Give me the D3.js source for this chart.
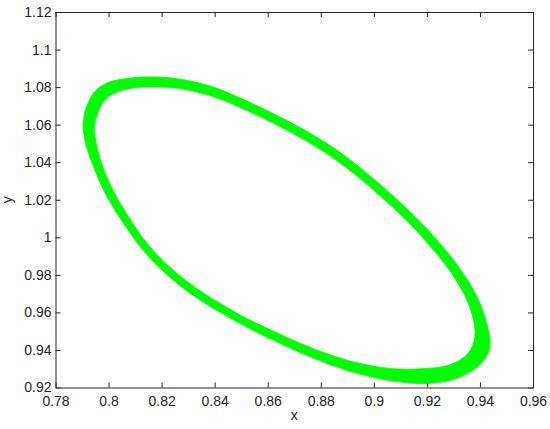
<!DOCTYPE html>
<html>
<head>
<meta charset="utf-8">
<script src="https://cdn.jsdelivr.net/npm/d3@7"></script>
<style>
    body { margin: 0; background: #fff; }
    svg { display: block; font-family: 'Liberation Sans', Arial, sans-serif; }
</style>
</head>
<body>
<div id="chart"></div>
<script>
// Tick values and labels
const xTicks = [0.78, 0.8, 0.82, 0.84, 0.86, 0.88, 0.9, 0.92, 0.94, 0.96]
const xTickLabels = ['0.78', '0.8', '0.82', '0.84', '0.86', '0.88', '0.9', '0.92', '0.94', '0.96']
const yTicks = [0.92, 0.94, 0.96, 0.98, 1, 1.02, 1.04, 1.06, 1.08, 1.1, 1.12]
const yTickLabels = ['0.92', '0.94', '0.96', '0.98', '1', '1.02', '1.04', '1.06', '1.08', '1.1', '1.12']

// Outer edge of the orbit band (x, y), clockwise from the left end
const outerX = [0.7904, 0.7911, 0.793, 0.7956, 0.7994, 0.8043, 0.8137, 0.8251, 0.8382, 0.8496,
    0.862, 0.8748, 0.8873, 0.8997, 0.9125, 0.9238, 0.9325, 0.9389, 0.9427, 0.9438,
    0.9423, 0.9385, 0.9333, 0.9268, 0.9193, 0.9118, 0.9023, 0.8929, 0.8835, 0.8722,
    0.8609, 0.8484, 0.8296, 0.8156, 0.8058, 0.7983, 0.7934, 0.7915]
const outerY = [1.0593, 1.0667, 1.0737, 1.0787, 1.0822, 1.084, 1.0854, 1.0846, 1.0806, 1.0742,
    1.0659, 1.0564, 1.0452, 1.0313, 1.0151, 0.9986, 0.9831, 0.9682, 0.9533, 0.9426,
    0.9362, 0.9304, 0.9261, 0.9232, 0.9221, 0.9226, 0.9246, 0.9279, 0.9323, 0.9387,
    0.946, 0.955, 0.9714, 0.989, 1.0071, 1.0247, 1.0412, 1.0492]

// Inner edge of the orbit band (x, y)
const innerX = [0.7947, 0.7955, 0.7985, 0.8024, 0.8081, 0.8156, 0.8269, 0.8394, 0.8496, 0.862,
    0.8748, 0.8873, 0.8997, 0.9125, 0.9212, 0.9295, 0.9351, 0.938, 0.9378, 0.9359,
    0.9325, 0.9272, 0.9193, 0.9118, 0.9023, 0.8929, 0.8835, 0.8722, 0.8609, 0.8484,
    0.8296, 0.8156, 0.8058, 0.8005, 0.7972, 0.7955]
const innerY = [1.0572, 1.0646, 1.0731, 1.0769, 1.0793, 1.0801, 1.0793, 1.075, 1.0692, 1.0609,
    1.0511, 1.0396, 1.0255, 1.0088, 0.9954, 0.9805, 0.9666, 0.9528, 0.9448, 0.9389,
    0.9346, 0.9315, 0.9301, 0.9297, 0.9308, 0.9334, 0.9374, 0.9436, 0.9508, 0.9596,
    0.9764, 0.9949, 1.0148, 1.0284, 1.0401, 1.0492]

const width = 550
const height = 429
const margin = { top: 12, right: 17, bottom: 41.5, left: 55.5 }
const axisColor = '#262626'
const orbitColor = '#00ff00'

const svg = d3
    .select('#chart')
    .append('svg')
    .attr('width', width)
    .attr('height', height)

const x = d3
    .scaleLinear()
    .domain([0.78, 0.96])
    .range([margin.left, width - margin.right])

const y = d3
    .scaleLinear()
    .domain([0.92, 1.12])
    .range([height - margin.bottom, margin.top])

// Orbit band: outer and inner loops filled even-odd
const loop = d3
    .line()
    .x((d) => x(d[0]))
    .y((d) => y(d[1]))
    .curve(d3.curveCatmullRomClosed)

const outer = outerX.map((v, i) => [v, outerY[i]])
const inner = innerX.map((v, i) => [v, innerY[i]])

svg.append('path')
    .attr('d', loop(outer) + loop(inner))
    .attr('fill', orbitColor)
    .attr('fill-rule', 'evenodd')
    .attr('stroke', orbitColor)
    .attr('stroke-width', 0.8)

// Axes, MATLAB style box with inward ticks
const tick = 5

svg.append('g')
    .attr('transform', `translate(0, ${height - margin.bottom})`)
    .call(
        d3.axisBottom(x)
            .tickValues(xTicks)
            .tickFormat((d, i) => xTickLabels[i])
            .tickSizeInner(-tick)
            .tickSizeOuter(0)
            .tickPadding(9)
    )

svg.append('g')
    .attr('transform', `translate(0, ${margin.top})`)
    .call(
        d3.axisTop(x)
            .tickValues(xTicks)
            .tickFormat('')
            .tickSizeInner(-tick)
            .tickSizeOuter(0)
    )

svg.append('g')
    .attr('transform', `translate(${margin.left}, 0)`)
    .call(
        d3.axisLeft(y)
            .tickValues(yTicks)
            .tickFormat((d, i) => yTickLabels[i])
            .tickSizeInner(-tick)
            .tickSizeOuter(0)
            .tickPadding(4)
    )

svg.append('g')
    .attr('transform', `translate(${width - margin.right}, 0)`)
    .call(
        d3.axisRight(y)
            .tickValues(yTicks)
            .tickFormat('')
            .tickSizeInner(-tick)
            .tickSizeOuter(0)
    )

svg.selectAll('.domain, .tick line')
    .attr('stroke', axisColor)
    .attr('stroke-width', 1)

svg.selectAll('.tick text')
    .attr('fill', axisColor)
    .style('font-size', '14px')
    .style('font-family', "'Liberation Sans', Arial, sans-serif")

// Axis labels
svg.append('text')
    .attr('x', (margin.left + width - margin.right) / 2)
    .attr('y', 420)
    .attr('text-anchor', 'middle')
    .attr('fill', axisColor)
    .style('font-size', '14px')
    .text('x')

svg.append('text')
    .attr('transform', `translate(12, ${(margin.top + height - margin.bottom) / 2}) rotate(-90)`)
    .attr('text-anchor', 'middle')
    .attr('fill', axisColor)
    .style('font-size', '14px')
    .text('y')
</script>
</body>
</html>
